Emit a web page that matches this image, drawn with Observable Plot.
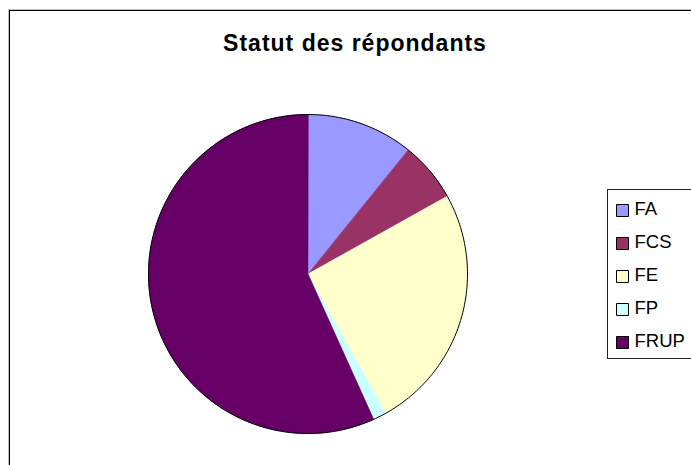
<!DOCTYPE html>
<html>
<head>
<meta charset="utf-8">
<script src="https://cdn.jsdelivr.net/npm/d3@7"></script>
<script src="https://cdn.jsdelivr.net/npm/@observablehq/plot@0.6"></script>
<style>
  html, body { margin: 0; padding: 0; background: #fff; overflow: hidden; width: 691px; height: 465px; }
  #wrap { position: relative; width: 691px; height: 465px; overflow: hidden; font-family: "Liberation Sans", Arial, sans-serif; }
  #border { position: absolute; left: 9px; top: 10px; width: 900px; height: 700px; border: 1px solid #000; box-shadow: -1px -1px 0 #bbb; }
  #pie { position: absolute; left: 0; top: 0; }
  #title { position: absolute; left: 0; top: 32px; width: 710px; text-align: center; font-weight: bold; font-size: 23px; line-height: 23px; letter-spacing: 1px; color: #000; }
  #legend { position: absolute; left: 607px; top: 189px; width: 200px; height: 168px; border: 1px solid #222; background: #fff; }
  #legend svg { position: absolute; left: 0; top: 0; }
</style>
</head>
<body>
<div id="wrap">
  <div id="border"></div>
  <div id="pie"></div>
  <div id="title">Statut des répondants</div>
  <div id="legend"></div>
</div>
<script>
const categories = ["FA", "FCS", "FE", "FP", "FRUP"];
const counts = [16, 9, 37, 2, 84];
const colors = ["#9999FF", "#993366", "#FFFFCC", "#CCFFFF", "#660066"];

// Build slice outlines (unit circle, clockwise from 12 o'clock)
const total = d3.sum(counts);
const slicePts = [];
let acc = 0;
categories.forEach((name, i) => {
  const a0 = acc / total * 2 * Math.PI;
  acc += counts[i];
  const a1 = acc / total * 2 * Math.PI;
  const n = Math.max(2, Math.ceil((a1 - a0) * 180 / Math.PI));
  slicePts.push({name, x: 0, y: 0});
  for (let k = 0; k <= n; k++) {
    const t = a0 + (a1 - a0) * k / n;
    slicePts.push({name, x: Math.sin(t), y: Math.cos(t)});
  }
});
const circlePts = d3.range(0, 361).map(d => ({x: Math.sin(d * Math.PI / 180), y: Math.cos(d * Math.PI / 180)}));

const pie = Plot.plot({
  width: 691,
  height: 465,
  marginLeft: 148,
  marginRight: 224,
  marginTop: 114,
  marginBottom: 32,
  x: {domain: [-1, 1], axis: null},
  y: {domain: [-1, 1], axis: null},
  color: {domain: categories, range: colors},
  style: {background: "transparent"},
  marks: [
    Plot.line(slicePts, {x: "x", y: "y", z: "name", fill: "name", stroke: "name", strokeWidth: 0.6, curve: "linear-closed"}),
    Plot.line(circlePts, {x: "x", y: "y", stroke: "#000", strokeWidth: 1, curve: "linear-closed"})
  ]
});
document.getElementById("pie").appendChild(pie);

const legend = Plot.plot({
  width: 200,
  height: 168,
  marginLeft: 0,
  marginRight: 0,
  marginTop: 0,
  marginBottom: 0,
  y: {type: "point", domain: categories, range: [19.5, 153], padding: 0, axis: null},
  color: {domain: categories, range: colors},
  style: {background: "transparent", fontFamily: "Liberation Sans, Arial, sans-serif"},
  marks: [
    Plot.dot(categories, {y: d => d, frameAnchor: "left", dx: 14, symbol: "square", r: 6.77, fill: d => d, stroke: "#000", strokeWidth: 1}),
    Plot.text(categories, {y: d => d, text: d => d, frameAnchor: "left", dx: 26, dy: -1.5, textAnchor: "start", fontSize: 18.5, fill: "#000", style: "letter-spacing:0.8px"})
  ]
});
document.getElementById("legend").appendChild(legend);
</script>
</body>
</html>
